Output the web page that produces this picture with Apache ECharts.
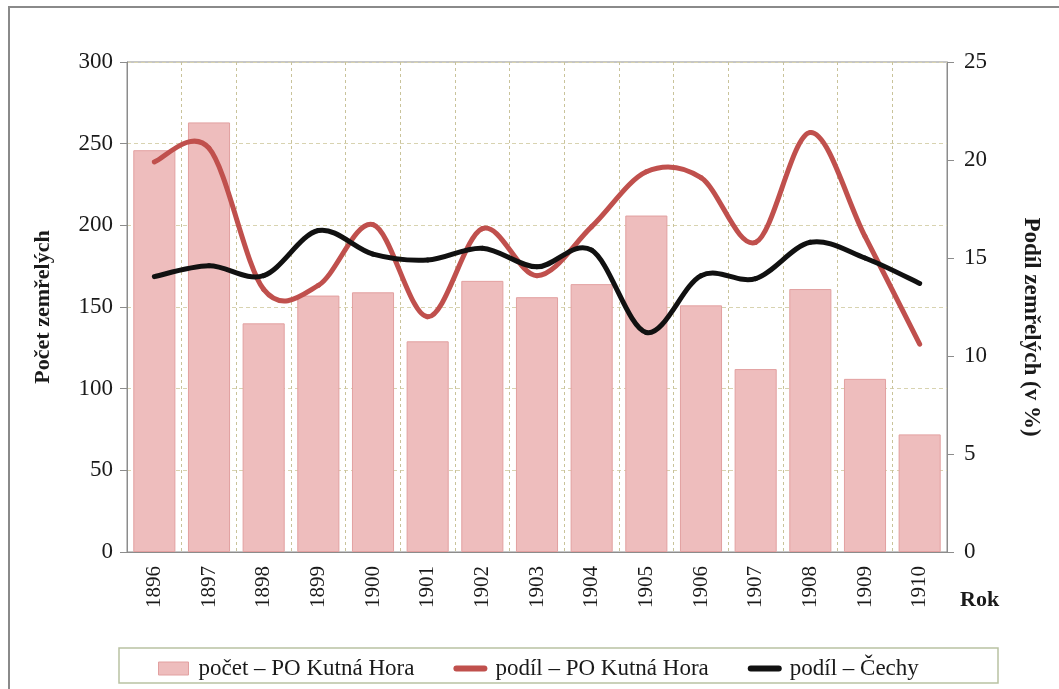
<!DOCTYPE html>
<html>
<head>
<meta charset="utf-8">
<script src="https://cdn.jsdelivr.net/npm/echarts@6/dist/echarts.min.js"></script>
<style>
html,body{margin:0;padding:0;background:#fff;}
#chart{width:1059px;height:689px;}
</style>
</head>
<body>
<div id="chart"></div>
<script>
const years = ['1896','1897','1898','1899','1900','1901','1902','1903','1904','1905','1906','1907','1908','1909','1910'];
const pocetKH = [246, 263, 140, 157, 159, 129, 166, 156, 164, 206, 151, 112, 161, 106, 72];
const podilKH = [19.9, 20.6, 13.4, 13.6, 16.7, 12.0, 16.5, 14.1, 16.6, 19.4, 19.1, 15.8, 21.4, 16.1, 10.6];
const podilCechy = [14.05, 14.6, 14.1, 16.4, 15.2, 14.9, 15.5, 14.55, 15.4, 11.2, 14.1, 13.95, 15.8, 15.0, 13.7];
const leftTicks = {min: 0, max: 300, interval: 50};
const rightTicks = {min: 0, max: 25, interval: 5};
const names = ['počet – PO Kutná Hora', 'podíl – PO Kutná Hora', 'podíl – Čechy'];

const serif = 'Liberation Serif';
const lineIcon = 'path://M3,0 L31,0 A3,3 0 0 1 31,6 L3,6 A3,3 0 0 1 3,0 Z';
const barIcon = 'path://M0,0 L30,0 L30,13 L0,13 Z';

// Smoothed line (Catmull-Rom style, like spreadsheet smoothing) through the data points,
// positioned via the chart's own axes (api.coord).
function smoothRenderer(values, color) {
  return function (params, api) {
    const i = params.dataIndex;
    if (i >= values.length - 1) return null;
    const clampIdx = k => Math.max(0, Math.min(values.length - 1, k));
    const p = k => api.coord([clampIdx(k), values[clampIdx(k)]]);
    const p0 = p(i - 1), p1 = p(i), p2 = p(i + 1), p3 = p(i + 2);
    const t = 1 / 6;
    return {
      type: 'bezierCurve',
      shape: {
        x1: p1[0], y1: p1[1], x2: p2[0], y2: p2[1],
        cpx1: p1[0] + (p2[0] - p0[0]) * t, cpy1: p1[1] + (p2[1] - p0[1]) * t,
        cpx2: p2[0] - (p3[0] - p1[0]) * t, cpy2: p2[1] - (p3[1] - p1[1]) * t
      },
      style: {stroke: color, lineWidth: 5, fill: null, lineCap: 'round', lineJoin: 'round'},
      silent: true
    };
  };
}

const chart = echarts.init(document.getElementById('chart'));
chart.setOption({
  animation: false,
  backgroundColor: '#fff',
  grid: {left: 127, right: 112, top: 62, bottom: 137, show: true, borderColor: '#8c8c8c', borderWidth: 1},
  legend: {
    left: 153, top: 652, itemWidth: 34, itemHeight: 13, itemGap: 39,
    textStyle: {fontFamily: serif, fontSize: 23, color: '#1a1a1a', padding: [0, 0, 0, 3]},
    data: [
      {name: names[0], icon: barIcon, itemStyle: {color: '#eebdbd', borderColor: '#e2a0a0', borderWidth: 1}},
      {name: names[1], icon: lineIcon, itemStyle: {color: '#c0504d'}},
      {name: names[2], icon: lineIcon, itemStyle: {color: '#111111'}}
    ]
  },
  xAxis: {
    type: 'category', data: years, boundaryGap: true,
    axisLine: {lineStyle: {color: '#8c8c8c', width: 1}},
    axisTick: {show: false},
    axisLabel: {rotate: 90, margin: 14, fontFamily: serif, fontSize: 21, color: '#1a1a1a', interval: 0},
    splitLine: {show: true, interval: 0, lineStyle: {color: '#c9c39a', type: [3, 3], width: 1}}
  },
  yAxis: [{
    type: 'value', min: leftTicks.min, max: leftTicks.max, interval: leftTicks.interval,
    name: 'Počet zemřelých', nameLocation: 'middle', nameRotate: 90, nameGap: 73,
    nameTextStyle: {fontFamily: serif, fontSize: 22, fontWeight: 'bold', color: '#1a1a1a'},
    axisLine: {show: true, lineStyle: {color: '#8c8c8c'}},
    axisTick: {show: true, length: 7, lineStyle: {color: '#8c8c8c'}},
    axisLabel: {margin: 14, fontFamily: serif, fontSize: 23, color: '#1a1a1a'},
    splitLine: {show: true, lineStyle: {color: '#d8d3b0', type: [4, 3], width: 1}}
  }, {
    type: 'value', min: rightTicks.min, max: rightTicks.max, interval: rightTicks.interval,
    name: 'Podíl zemřelých (v %)', nameLocation: 'middle', nameRotate: -90, nameGap: 72,
    nameTextStyle: {fontFamily: serif, fontSize: 23, fontWeight: 'bold', color: '#1a1a1a', padding: [0, 0, 0, 40]},
    axisLine: {show: true, lineStyle: {color: '#8c8c8c'}},
    axisTick: {show: true, length: 7, lineStyle: {color: '#8c8c8c'}},
    axisLabel: {margin: 17, fontFamily: serif, fontSize: 23, color: '#1a1a1a'},
    splitLine: {show: false}
  }],
  series: [{
    name: names[0], type: 'bar', yAxisIndex: 0, data: pocetKH, barCategoryGap: '23%',
    itemStyle: {color: '#eebdbd', borderColor: '#e2a0a0', borderWidth: 1}
  }, {
    name: names[1], type: 'custom', yAxisIndex: 1,
    data: podilKH.map((v, i) => [i, v]), encode: {x: 0, y: 1},
    itemStyle: {color: '#c0504d'},
    renderItem: smoothRenderer(podilKH, '#c0504d'), z: 3
  }, {
    name: names[2], type: 'custom', yAxisIndex: 1,
    data: podilCechy.map((v, i) => [i, v]), encode: {x: 0, y: 1},
    itemStyle: {color: '#111111'},
    renderItem: smoothRenderer(podilCechy, '#111111'), z: 4
  }],
  graphic: [
    {type: 'rect', shape: {x: 9, y: 7, width: 1100, height: 700}, style: {fill: 'none', stroke: '#8a8a8a', lineWidth: 2}, silent: true},
    {type: 'rect', shape: {x: 119, y: 648, width: 879, height: 35}, style: {fill: 'none', stroke: '#b9c2a2', lineWidth: 1.5}, silent: true},
    {type: 'text', left: 960, top: 589, style: {text: 'Rok', fontFamily: serif, fontSize: 22, fontWeight: 'bold', fill: '#1a1a1a'}}
  ]
});
</script>
</body>
</html>
